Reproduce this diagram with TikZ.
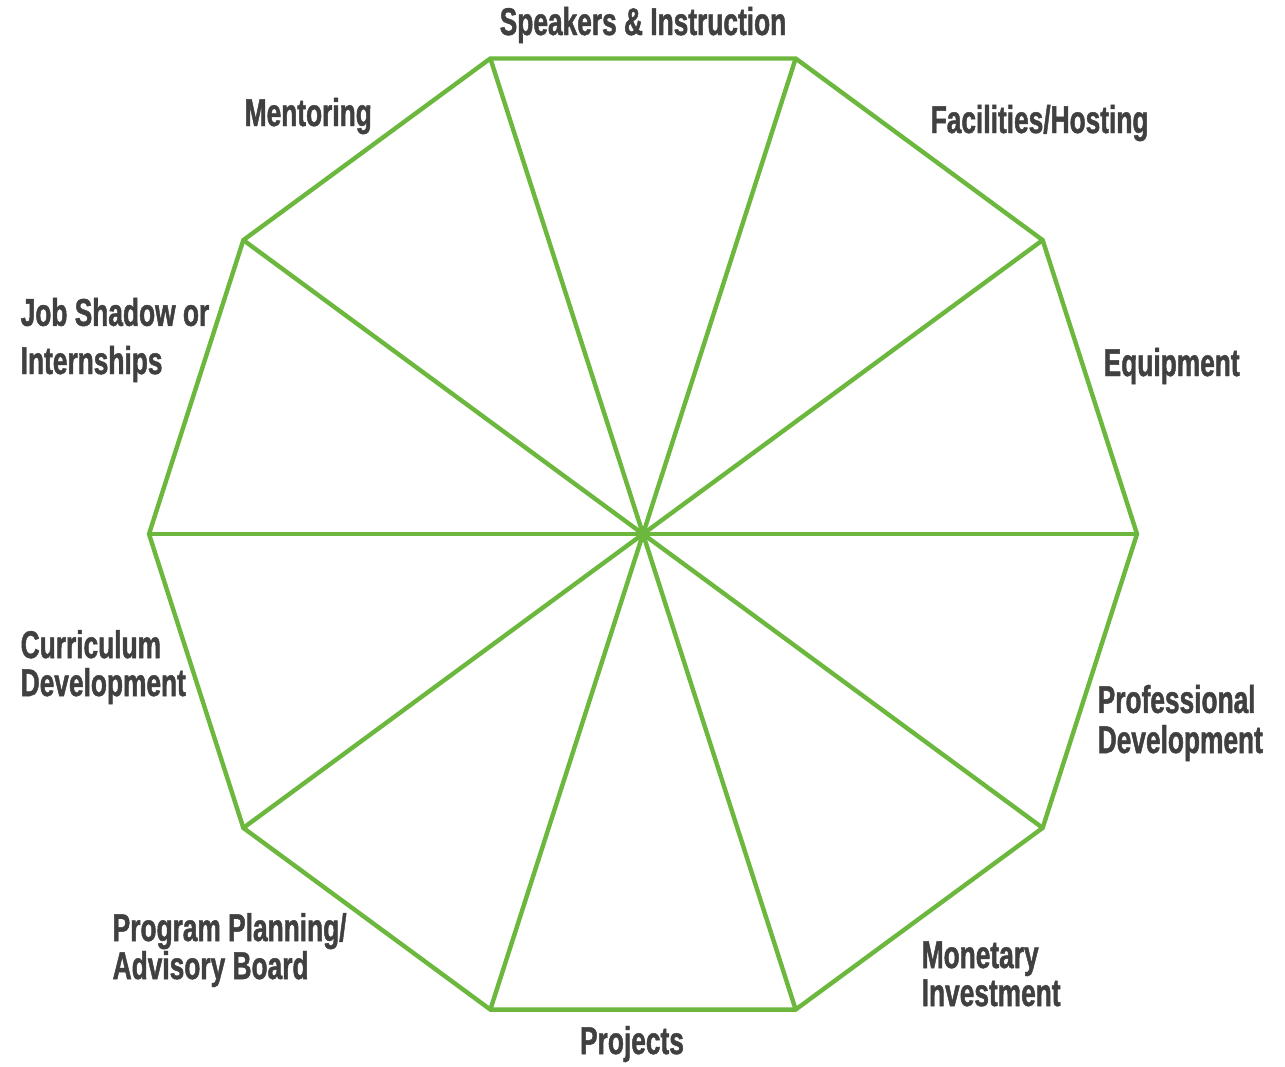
\documentclass[tikz,border=0pt]{standalone}
\usepackage{fontspec}
\setmainfont{Liberation Sans}[FakeStretch=0.68,FakeBold=1.2]
\usetikzlibrary{positioning}
\definecolor{wheelgreen}{RGB}{108,184,62}
\definecolor{labelgray}{RGB}{64,64,64}
\tikzset{%
	wheel line/.style={
		draw=wheelgreen,
		line width=1.25pt
	},
	area label/.style={
		font=\bfseries\fontsize{11}{10.8}\selectfont,
		text=labelgray,
		inner sep=0pt,
		align=left
	},
}

\begin{document}
\begin{tikzpicture}[x=0.01cm,y=-0.01cm]
		\useasboundingbox (0,0) rectangle (1285,1066);
		% Centre of the wheel
		\coordinate (c) at (643,534);
		% Corners of the decagon
		\foreach \i in {0,...,9}
			\coordinate (v\i) at ({643+494*cos(36*\i)},{534-500*sin(36*\i)});
		
		% Draw the outline
		\draw[wheel line] (v0) -- (v1) -- (v2) -- (v3) -- (v4) -- (v5)
			-- (v6) -- (v7) -- (v8) -- (v9) -- cycle;
		% Draw the spokes
		\foreach \i in {0,...,9}
			\draw[wheel line] (c) -- (v\i);
		
		% Labels round the wheel (base is the last line)
		\node[area label, anchor=base] (speakers) at (643,35) {Speakers \& Instruction};
		\node[area label, anchor=base west] (mentoring) at (244,126) {Mentoring};
		\node[area label, anchor=base west] (facilities) at (930,133) {Facilities/Hosting};
		\node[area label, anchor=base west] (equipment) at (1103,376) {Equipment};
		\node[area label, anchor=base west] (jobshadow) at (20,374) {Job Shadow or\\[2.9pt]Internships};
		\node[area label, anchor=base west] (curriculum) at (20,696) {Curriculum\\Development};
		\node[area label, anchor=base west] (professional) at (1097,753) {Professional\\[0.6pt]Development};
		\node[area label, anchor=base west] (planning) at (112,979) {Program Planning/\\Advisory Board};
		\node[area label, anchor=base west] (monetary) at (921,1006) {Monetary\\Investment};
		\node[area label, anchor=base] (projects) at (632,1054) {Projects};
	\end{tikzpicture}
\end{document}
